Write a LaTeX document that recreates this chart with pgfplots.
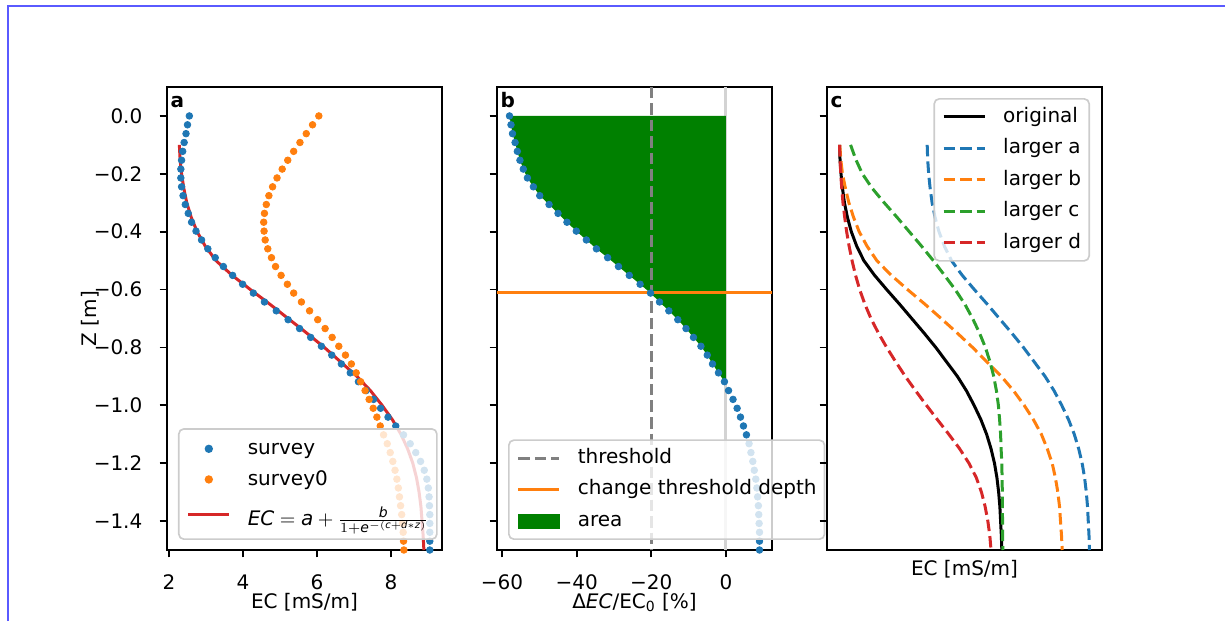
\documentclass[border=0pt]{standalone}
\usepackage{fontspec}
\setmainfont{DejaVu Sans}
\usepackage{amsmath}
\usepackage{pgfplots}
\pgfplotsset{compat=1.18}

\definecolor{c0}{RGB}{31,119,180}
\definecolor{c1}{RGB}{255,127,14}
\definecolor{c2}{RGB}{44,160,44}
\definecolor{c3}{RGB}{214,39,40}
\definecolor{areagreen}{RGB}{0,128,0}
\definecolor{midgray}{RGB}{128,128,128}
\definecolor{lightgr}{RGB}{211,211,211}
\definecolor{legedge}{RGB}{204,204,204}
\definecolor{framecol}{RGB}{90,90,255}

\newcommand\lstrut{\rule[-2.4pt]{0pt}{9.8pt}}

\pgfplotsset{
  panel/.style={
    scale only axis, width=137.5pt, height=231.5pt,
    ymin=-1.5, ymax=0.1,
    ytick={0,-0.2,-0.4,-0.6,-0.8,-1,-1.2,-1.4},
    axis line style={line width=0.83pt},
    tick style={black, line width=0.83pt},
    major tick length=3.64pt,
    tick align=outside,
    xtick pos=left, ytick pos=left,
    ticklabel style={font=\normalsize, inner sep=0pt},
    xticklabel style={anchor=base, yshift=-16.3pt},
    yticklabel style={anchor=east, xshift=-8.5pt},
    xlabel style={at={(axis description cs:0.5,-0.1253)}, anchor=base, inner sep=0pt},
    legend cell align=left,
    legend style={font=\normalsize, draw=legedge, line width=0.83pt,
      rounded corners=2.5pt, fill=white, fill opacity=0.8, draw opacity=1,
      text opacity=1, inner xsep=4pt, inner ysep=4pt, row sep=5.75pt,
      /tikz/every odd column/.append style={column sep=8.5pt},
      nodes={inner sep=0pt, anchor=west}},
  },
  lineleg/.style={legend image code/.code={\draw[##1, opacity=1] (0pt,0pt) -- (20.5pt,0pt);}},
  markleg/.style={legend image code/.code={\draw[##1, opacity=1, only marks] plot coordinates {(10.25pt,0pt)};}},
  arealeg/.style={legend image code/.code={\fill[##1, opacity=1, sharp corners] (0pt,-3.75pt) rectangle (21pt,3.75pt);}},
  dots/.style={only marks, mark=*, mark size=1.65pt},
  fitline/.style={line width=1.5pt},
  dashline/.style={line width=1.5pt, dash pattern=on 5.75pt off 2.5pt},
}

% survey: EC vs depth z
\pgfplotstableread{
z EC
0 2.55
-0.0306 2.50
-0.0612 2.46
-0.0918 2.41
-0.1224 2.37
-0.1531 2.34
-0.1837 2.32
-0.2143 2.32
-0.2449 2.34
-0.2755 2.38
-0.3061 2.44
-0.3367 2.52
-0.3673 2.61
-0.3980 2.73
-0.4286 2.88
-0.4592 3.05
-0.4898 3.25
-0.5204 3.47
-0.5510 3.72
-0.5816 3.99
-0.6122 4.28
-0.6429 4.58
-0.6735 4.90
-0.7041 5.22
-0.7347 5.53
-0.7653 5.83
-0.7959 6.12
-0.8265 6.40
-0.8571 6.66
-0.8878 6.90
-0.9184 7.12
-0.9490 7.33
-0.9796 7.53
-1.0102 7.72
-1.0408 7.92
-1.0714 8.13
-1.1020 8.34
-1.1327 8.52
-1.1633 8.67
-1.1939 8.80
-1.2245 8.90
-1.2551 8.97
-1.2857 9.01
-1.3163 9.03
-1.3469 9.04
-1.3776 9.05
-1.4082 9.05
-1.4388 9.05
-1.4694 9.05
-1.5000 9.05
}\survey

\pgfplotstableread{
z EC
0 6.05
-0.0306 5.88
-0.0612 5.71
-0.0918 5.54
-0.1224 5.37
-0.1531 5.21
-0.1837 5.06
-0.2143 4.92
-0.2449 4.80
-0.2755 4.70
-0.3061 4.63
-0.3367 4.58
-0.3673 4.56
-0.3980 4.57
-0.4286 4.60
-0.4592 4.67
-0.4898 4.77
-0.5204 4.88
-0.5510 5.03
-0.5816 5.20
-0.6122 5.37
-0.6429 5.58
-0.6735 5.80
-0.7041 6.02
-0.7347 6.22
-0.7653 6.41
-0.7959 6.59
-0.8265 6.77
-0.8571 6.93
-0.8878 7.06
-0.9184 7.18
-0.9490 7.30
-0.9796 7.41
-1.0102 7.52
-1.0408 7.62
-1.0714 7.71
-1.1020 7.80
-1.1327 7.90
-1.1633 7.98
-1.1939 8.05
-1.2245 8.11
-1.2551 8.16
-1.2857 8.20
-1.3163 8.23
-1.3469 8.26
-1.3776 8.29
-1.4082 8.31
-1.4388 8.33
-1.4694 8.34
-1.5000 8.35
}\surveyzero

% relative change in percent
\pgfplotstableread{
z dEC
0 -58.0
-0.0306 -57.6
-0.0612 -57.2
-0.0918 -56.5
-0.1224 -55.9
-0.1531 -55.2
-0.1837 -54.3
-0.2143 -53.2
-0.2449 -51.6
-0.2755 -49.9
-0.3061 -47.4
-0.3367 -45.0
-0.3673 -42.6
-0.3980 -40.1
-0.4286 -37.4
-0.4592 -34.7
-0.4898 -31.7
-0.5204 -28.8
-0.5510 -25.9
-0.5816 -23.0
-0.6122 -20.2
-0.6429 -17.8
-0.6735 -15.3
-0.7041 -12.9
-0.7347 -10.7
-0.7653 -8.7
-0.7959 -6.7
-0.8265 -5.0
-0.8571 -3.6
-0.8878 -2.0
-0.9184 -0.4
-0.9490 0.7
-0.9796 1.9
-1.0102 3.0
-1.0408 3.9
-1.0714 4.7
-1.1020 5.5
-1.1327 6.2
-1.1633 6.7
-1.1939 7.2
-1.2245 7.6
-1.2551 8.0
-1.2857 8.3
-1.3163 8.5
-1.3469 8.7
-1.3776 8.8
-1.4082 8.9
-1.4388 9.0
-1.4694 9.0
-1.5000 9.0
}\change

% fitted curve and the four variations
\pgfplotstableread{
z orig la lb lc ld
-0.10 2.28 5.85 2.29 2.73 2.28
-0.15 2.30 5.87 2.33 2.94 2.30
-0.20 2.34 5.91 2.40 3.21 2.33
-0.25 2.40 5.97 2.52 3.61 2.37
-0.30 2.48 6.05 2.66 4.10 2.42
-0.35 2.60 6.17 2.85 4.62 2.49
-0.40 2.76 6.33 3.08 5.12 2.57
-0.45 2.98 6.55 3.40 5.62 2.67
-0.50 3.27 6.84 3.80 6.10 2.79
-0.55 3.70 7.27 4.38 6.55 2.93
-0.60 4.20 7.77 5.05 6.99 3.10
-0.65 4.72 8.29 5.75 7.38 3.31
-0.70 5.22 8.79 6.42 7.70 3.56
-0.75 5.72 9.29 7.07 7.98 3.86
-0.80 6.20 9.77 7.70 8.22 4.20
-0.85 6.64 10.21 8.28 8.41 4.57
-0.90 7.08 10.65 8.87 8.56 4.96
-0.95 7.45 11.02 9.37 8.67 5.38
-1.00 7.76 11.33 9.80 8.75 5.82
-1.05 8.04 11.61 10.18 8.80 6.27
-1.10 8.27 11.84 10.50 8.84 6.73
-1.15 8.45 12.02 10.74 8.86 7.17
-1.20 8.59 12.16 10.94 8.89 7.55
-1.25 8.69 12.26 11.07 8.90 7.85
-1.30 8.76 12.33 11.17 8.91 8.06
-1.35 8.81 12.38 11.24 8.91 8.21
-1.40 8.84 12.41 11.28 8.92 8.32
-1.45 8.87 12.44 11.32 8.92 8.40
-1.50 8.89 12.46 11.35 8.93 8.45
}\fits

\begin{document}
\begin{tikzpicture}
\path[use as bounding box] (0pt,0pt) rectangle (612.5pt,310.5pt);
\draw[framecol, line width=1pt] (4.15pt,0pt) -- (4.15pt,307.6pt) -- (612.5pt,307.6pt);

% panel a
\begin{axis}[panel, at={(83.5pt,35.5pt)}, anchor=south west,
  xmin=1.946, xmax=9.38,
  xtick={2,4,6,8}, xticklabels={2,4,6,8},
  yticklabels={0.0,−0.2,−0.4,−0.6,−0.8,−1.0,−1.2,−1.4},
  xlabel={EC [mS/m]},
  ylabel={Z [m]},
  ylabel style={at={(axis description cs:-0.258,0.5)}, anchor=base, inner sep=0pt},
  legend style={at={(0.04,0.0216)}, anchor=south west, row sep=6.4pt, inner ysep=5.5pt},
]
\addplot[dots, c0, markleg] table[x=EC, y=z] {\survey};
\addlegendentry{survey\lstrut}
\addplot[dots, c1, markleg] table[x=EC, y=z] {\surveyzero};
\addlegendentry{survey0\lstrut}
\addplot[fitline, c3, lineleg] table[x=orig, y=z] {\fits};
\addlegendentry{$\textit{EC} = \textit{a} + \frac{\textit{b}}{1+\textit{e}^{-(\textit{c}+\textit{d}*\textit{z})}}$\rule[-4.6pt]{0pt}{16.6pt}}
\node[anchor=base west, inner sep=0pt, font=\bfseries] at (axis description cs:0.012,0.9557) {a};
\end{axis}

% panel b
\begin{axis}[panel, at={(248.5pt,35.5pt)}, anchor=south west,
  xmin=-61.35, xmax=12.35,
  xtick={-60,-40,-20,0}, xticklabels={−60,−40,−20,0},
  yticklabels={},
  xlabel={Δ\textit{EC}/EC\textsubscript{0} [\%]},
  legend style={at={(0.04,0.0216)}, anchor=south west,
    nodes={text height=7.6pt, text depth=2.4pt}},
]
\addplot[lightgr, line width=1.5pt, forget plot] coordinates {(0,0.1) (0,-1.5)};
\addplot[fill=areagreen, draw=none, forget plot] coordinates {
(0,0) (-58.0,0) (-57.6,-0.0306) (-57.2,-0.0612) (-56.5,-0.0918) (-55.9,-0.1224)
(-55.2,-0.1531) (-54.3,-0.1837) (-53.2,-0.2143) (-51.6,-0.2449) (-49.9,-0.2755)
(-47.4,-0.3061) (-45.0,-0.3367) (-42.6,-0.3673) (-40.1,-0.3980) (-37.4,-0.4286)
(-34.7,-0.4592) (-31.7,-0.4898) (-28.8,-0.5204) (-25.9,-0.5510) (-23.0,-0.5816)
(-20.2,-0.6122) (-17.8,-0.6429) (-15.3,-0.6735) (-12.9,-0.7041) (-10.7,-0.7347)
(-8.7,-0.7653) (-6.7,-0.7959) (-5.0,-0.8265) (-3.6,-0.8571) (-2.0,-0.8878)
(-0.4,-0.9184) (0,-0.9184)};
\addplot[dots, c0, forget plot] table[x=dEC, y=z] {\change};
\addplot[dashline, midgray, forget plot] coordinates {(-20,0.1) (-20,-1.5)};
\addplot[fitline, c1, forget plot] coordinates {(-61.35,-0.61) (12.35,-0.61)};
\addlegendimage{dashline, midgray, lineleg}
\addlegendentry{threshold}
\addlegendimage{fitline, c1, lineleg}
\addlegendentry{change threshold depth}
\addlegendimage{fill=areagreen, draw=none, arealeg}
\addlegendentry{area}
\node[anchor=base west, inner sep=0pt, font=\bfseries] at (axis description cs:0.012,0.9557) {b};
\end{axis}

% panel c
\begin{axis}[panel, at={(413.5pt,35.5pt)}, anchor=south west,
  xmin=1.77, xmax=12.97,
  xtick=\empty,
  yticklabels={},
  xlabel={EC [mS/m]},
  xlabel style={at={(axis description cs:0.5,-0.056)}},
  legend style={at={(0.9564,0.9762)}, anchor=north east,
    nodes={text height=7.6pt, text depth=2.4pt}},
]
\addplot[fitline, black, lineleg] table[x=orig, y=z] {\fits};
\addlegendentry{original}
\addplot[dashline, c0, lineleg] table[x=la, y=z] {\fits};
\addlegendentry{larger a}
\addplot[dashline, c1, lineleg] table[x=lb, y=z] {\fits};
\addlegendentry{larger b}
\addplot[dashline, c2, lineleg] table[x=lc, y=z] {\fits};
\addlegendentry{larger c}
\addplot[dashline, c3, lineleg] table[x=ld, y=z] {\fits};
\addlegendentry{larger d}
\node[anchor=base west, inner sep=0pt, font=\bfseries] at (axis description cs:0.012,0.9557) {c};
\end{axis}
\end{tikzpicture}
\end{document}
